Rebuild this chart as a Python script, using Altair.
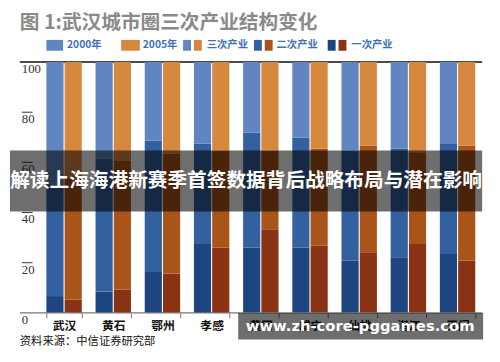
import altair as alt
import pandas as pd

cities = ["武汉", "黄石", "鄂州", "孝感", "黄冈", "咸宁", "仙桃", "潜江", "天门"]
years = ["2000年", "2005年"]
sectors = ["一次产业", "二次产业", "三次产业"]

primary_2000 = [6.7, 8.5, 16.3, 27.5, 26.1, 26.1, 20.9, 22.2, 23.5]
secondary_2000 = [44.3, 53.0, 52.3, 40.0, 45.8, 43.8, 43.8, 43.2, 43.8]
tertiary_2000 = [49.0, 38.5, 31.4, 32.5, 28.1, 30.1, 35.3, 34.6, 32.7]

primary_2005 = [5.2, 9.2, 15.7, 26.1, 33.3, 26.8, 24.2, 27.5, 20.9]
secondary_2005 = [48.8, 51.3, 47.8, 38.6, 31.4, 38.6, 42.5, 36.5, 45.8]
tertiary_2005 = [46.0, 39.5, 36.5, 35.3, 35.3, 34.6, 33.3, 36.0, 33.3]

y_ticks = [0, 20, 40, 60, 80, 100]

title_text = "图 1:武汉城市圈三次产业结构变化"
source_text = "资料来源：中信证券研究部"
banner_text = "解读上海海港新赛季首签数据背后战略布局与潜在影响"
watermark_text = "www.zh-core-pggames.com"

# colours
c2000 = {"三次产业": "#6185c0", "二次产业": "#33609e", "一次产业": "#1d4580"}
c2005 = {"三次产业": "#d6883f", "二次产业": "#a9551a", "一次产业": "#8a3314"}

rows = []
series = {
    "2000年": (primary_2000, secondary_2000, tertiary_2000),
    "2005年": (primary_2005, secondary_2005, tertiary_2005),
}
for i, c in enumerate(cities):
    for y in years:
        vals = series[y]
        for k, s in enumerate(sectors):
            rows.append({"city": c, "year": y, "sector": s,
                         "value": vals[k][i], "order": k, "key": y + s})
df = pd.DataFrame(rows)

keys = [y + s for y in years for s in sectors]
colors = [(c2000 if y == "2000年" else c2005)[s] for y in years for s in sectors]

yscale = alt.Scale(domain=[0, 100])
one = alt.Data(values=[{}])

top_line = alt.Chart(pd.DataFrame({"v": [100]})).mark_rule(color="#111", strokeWidth=1.5).encode(
    y=alt.Y("v:Q", scale=yscale, axis=None), x=alt.value(-20), x2=alt.value(450))

bars = alt.Chart(df).mark_bar().encode(
    x=alt.X("city:N", sort=cities,
            scale=alt.Scale(domain=cities, paddingInner=0.28, paddingOuter=0.14),
            axis=alt.Axis(title=None, labelAngle=0, domain=False, tickBand="extent",
                          tickColor="#777", tickSize=5, labelFont="Noto Sans CJK SC",
                          labelFontSize=12, labelColor="#111", labelPadding=3,
                          labelFontWeight="bold")),
    xOffset=alt.XOffset("year:N", sort=years, scale=alt.Scale(domain=years, paddingInner=0.06)),
    y=alt.Y("value:Q", stack="zero", scale=yscale, axis=None),
    color=alt.Color("key:N", scale=alt.Scale(domain=keys, range=colors), legend=None),
    order=alt.Order("order:Q"),
)

base_line = alt.Chart(pd.DataFrame({"v": [0]})).mark_rule(color="#777", strokeWidth=1.2).encode(
    y=alt.Y("v:Q", scale=yscale, axis=None), x=alt.value(-20), x2=alt.value(450))

tick_df = pd.DataFrame({"v": y_ticks})
overlines = alt.Chart(pd.DataFrame({"v": [20, 40, 60, 80]})).mark_rule(color="#333", strokeWidth=1).encode(
    y=alt.Y("v:Q", scale=yscale, axis=None), x=alt.value(-18), x2=alt.value(-7))
ylabels = alt.Chart(tick_df).mark_text(align="left", baseline="middle", dy=7, font="Liberation Serif",
                                       fontSize=13, color="#333").encode(
    y=alt.Y("v:Q", scale=yscale, axis=None), x=alt.value(-18), text="v:Q")

title = alt.Chart(one).mark_text(text=title_text, align="left", baseline="middle", font="Noto Sans CJK SC",
                                 fontSize=20, fontWeight="bold", color="#8a8a8a").encode(
    x=alt.value(-20), y=alt.value(-40))

legend_layers = []
sq = [(7, 24, c2000["三次产业"]), (83, 102, c2005["三次产业"]),
      (146, 154, c2000["三次产业"]), (157, 165, c2005["三次产业"]),
      (218, 226, c2000["二次产业"]), (229, 237, c2005["二次产业"]),
      (293, 301, c2000["一次产业"]), (304, 312, c2005["一次产业"])]
for x1, x2, col in sq:
    legend_layers.append(alt.Chart(one).mark_rect(color=col).encode(
        x=alt.value(x1), x2=alt.value(x2), y=alt.value(-22.5), y2=alt.value(-11.5)))
leg_texts = [(28, "2000年"), (105, "2005年"), (170, "三次产业"), (241, "二次产业"), (317, "一次产业")]
for x, t in leg_texts:
    legend_layers.append(alt.Chart(one).mark_text(text=t, align="left", baseline="middle",
                                                  font="Noto Sans CJK SC", fontSize=10.5,
                                                  fontWeight="bold", color="#3f70b8").encode(
        x=alt.value(x), y=alt.value(-17)))

source = alt.Chart(one).mark_text(text=source_text, align="left", baseline="middle", font="Noto Sans CJK SC",
                                  fontSize=11.5, color="#111").encode(x=alt.value(-20), y=alt.value(285))

banner = alt.Chart(one).mark_rect(color="#000", opacity=0.57).encode(
    x=alt.value(-30), x2=alt.value(450), y=alt.value(90), y2=alt.value(152))
banner_t = alt.Chart(one).mark_text(text=banner_text, align="center", baseline="middle",
                                    font="Noto Sans CJK SC", fontSize=20, fontWeight="bold",
                                    color="white").encode(x=alt.value(210), y=alt.value(121))

wm = alt.Chart(one).mark_rect(color="#000", opacity=0.57).encode(
    x=alt.value(202), x2=alt.value(451), y=alt.value(255), y2=alt.value(282))
wm_t = alt.Chart(one).mark_text(text=watermark_text, align="center", baseline="middle",
                                font="DejaVu Sans", fontSize=15, fontWeight="bold",
                                color="white").encode(x=alt.value(326), y=alt.value(268.5))

chart = alt.layer(top_line, bars, base_line, overlines, ylabels, title, *legend_layers,
                  source, banner, banner_t, wm, wm_t).properties(
    width=450, height=255,
    autosize=alt.AutoSizeParams(type="none"),
    padding={"left": 32, "top": 52, "right": 10, "bottom": 47},
    background="white",
).configure_view(stroke=None)

chart.save("out.html", embed_options={"renderer": "svg", "actions": False})
